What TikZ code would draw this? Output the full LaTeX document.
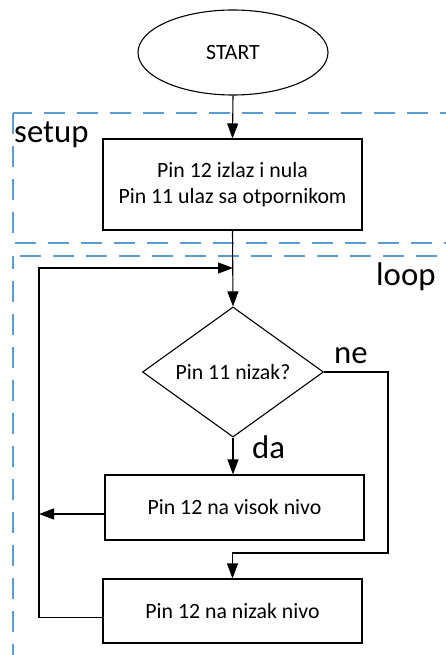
\documentclass[tikz,border=0pt]{standalone}
\usepackage{fontspec}
\setmainfont{Carlito}
\usetikzlibrary{shapes.geometric,arrows.meta,calc}
\definecolor{dashblue}{RGB}{91,155,213}
\tikzset{
  every node/.style={font=\fontsize{21.8pt}{25.5pt}\selectfont},
  proc/.style={draw, line width=1.1pt, rectangle, minimum width=259pt, inner sep=0pt, align=center},
  term/.style={draw, line width=1.1pt, ellipse, minimum width=190pt, minimum height=85pt, inner sep=0pt},
  dec/.style={draw, line width=1.1pt, diamond, minimum width=181pt, minimum height=130pt, inner sep=0pt},
  conn/.style={line width=1.1pt},
  arr/.style={conn, -{Triangle[length=15pt,width=11pt]}},
  region/.style={draw=dashblue, line width=1.5pt, dash pattern=on 21pt off 12pt},
  biglabel/.style={font=\fontsize{32.8pt}{38pt}\selectfont, inner sep=0pt, anchor=base west}
}
\begin{document}
\begin{tikzpicture}[x=1pt, y=-1pt]
\useasboundingbox (0,0) rectangle (445,655);
% regions
\draw[region] (13,113) rectangle (470,243);
\draw[region, dash phase=8pt] (13,256) rectangle (470,700);
\node[biglabel] (lsetup) at (14,143) {setup};
\node[biglabel] (lloop) at (376,285) {loop};
% nodes
\node[term] (start) at (233,52.5) {START};
\node[proc, minimum height=91pt] (setupbox) at (232.5,184.5) {Pin 12 izlaz i nula\\Pin 11 ulaz sa otpornikom};
\node[dec] (cond) at (233,372) {Pin 11 nizak?};
\node[proc, minimum height=65pt] (high) at (234.5,507.5) {Pin 12 na visok nivo};
\node[proc, minimum height=64pt] (low) at (232.5,611) {Pin 12 na nizak nivo};
\node[biglabel] (lne) at (334,363) {ne};
\node[biglabel] (lda) at (252,458) {da};
% helper coordinates
\coordinate (join) at (233,268);
\coordinate (leftx) at (39,0);
\coordinate (rightx) at (388,0);
\coordinate (nelow) at (0,553);
\coordinate (highw) at ([yshift=-6.5pt]high.west);
\coordinate (loww) at ([yshift=-6.5pt]low.west);
% connectors
\draw[arr] (start.south) -- (setupbox.north);
\draw[arr] (setupbox.south) -- (cond.north);
\draw[arr] (cond.south) -- (cond.south |- high.north);
\draw[arr] (highw) -- (leftx |- highw);
\draw[arr] (loww) -- (leftx |- loww) -- (leftx |- join) -- (join);
\draw[arr] (cond.east) -- (rightx |- cond.east) -- (rightx |- nelow) -- (low.north |- nelow) -- (low.north);
\end{tikzpicture}
\end{document}
